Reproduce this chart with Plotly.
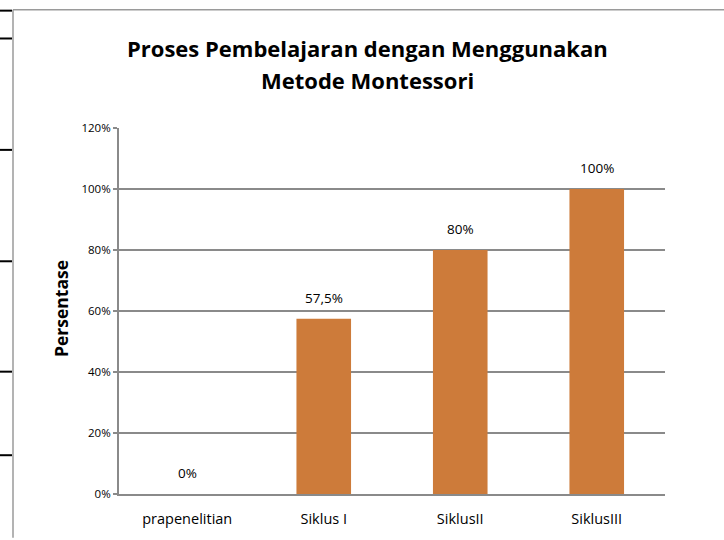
import plotly.graph_objects as go

categories = ["prapenelitian", "Siklus I", "SiklusII", "SiklusIII"]
values = [0.0, 0.575, 0.80, 1.00]
value_labels = ["0%", "57,5%", "80%", "100%"]
y_ticks = [0, 0.2, 0.4, 0.6, 0.8, 1.0, 1.2]
y_tick_labels = ["0%", "20%", "40%", "60%", "80%", "100%", "120%"]
title_lines = ["Proses Pembelajaran dengan Menggunakan", "Metode Montessori"]
y_title = "Persentase"

W, H = 724, 540
L, R, T, B = 119, 59, 128, 44
pw, ph = W - L - R, H - T - B

def px_x(p):
    return (p - L) / pw

def px_y(p):
    return (H - B - p) / ph

grid = "#8a8a8a"
bar_color = "#CD7B3A"
FONT = "Open Sans"

fig = go.Figure()
fig.add_trace(go.Bar(x=categories, y=values, marker_color=bar_color,
                     marker_line_width=0, width=0.4, hoverinfo="skip"))

for c, v, t in zip(categories, values, value_labels):
    fig.add_annotation(x=c, y=v, text=t, showarrow=False, yshift=21,
                       font=dict(family=FONT, size=13.5, color="#000"))

for line, yy in zip(title_lines, [48, 80]):
    fig.add_annotation(xref="paper", yref="paper", x=px_x(367), y=px_y(yy),
                       text="<b>%s</b>" % line, showarrow=False,
                       xanchor="center", yanchor="middle",
                       font=dict(family=FONT, size=22, color="#000"))

fig.add_annotation(xref="paper", yref="paper", x=px_x(61), y=px_y(310),
                   text="<b>%s</b>" % y_title, showarrow=False, textangle=-90,
                   xanchor="center", yanchor="middle",
                   font=dict(family=FONT, size=17.5, color="#000"))

shapes = []
shapes.append(dict(type="line", xref="paper", yref="paper", x0=px_x(13), x1=px_x(724),
                   y0=px_y(9), y1=px_y(9), line=dict(color="#9a9a9a", width=1.5)))
shapes.append(dict(type="line", xref="paper", yref="paper", x0=px_x(13), x1=px_x(13),
                   y0=px_y(9), y1=px_y(540), line=dict(color="#9a9a9a", width=1.5)))
for yy in [10, 38, 150, 262, 373, 457]:
    shapes.append(dict(type="line", xref="paper", yref="paper", x0=px_x(0), x1=px_x(12),
                       y0=px_y(yy), y1=px_y(yy), line=dict(color="#000", width=2)))

fig.update_layout(
    width=W, height=H,
    margin=dict(l=L, r=R, t=T, b=B),
    paper_bgcolor="white", plot_bgcolor="white",
    showlegend=False,
    shapes=shapes,
    xaxis=dict(showline=True, linecolor=grid, linewidth=2,
               ticks="outside", ticklen=11, tickcolor="rgba(0,0,0,0)",
               tickfont=dict(family=FONT, size=14.5, color="#000"),
               showgrid=False),
    yaxis=dict(range=[0, 1.2], tickvals=y_ticks, ticktext=y_tick_labels,
               showline=True, linecolor=grid, linewidth=2,
               ticks="outside", ticklen=4, tickcolor=grid, tickwidth=2,
               showgrid=True, gridcolor=grid, gridwidth=2, zeroline=False,
               tickfont=dict(family=FONT, size=11.5, color="#000")),
    bargap=0.6,
)

fig.write_html("out.html", config={"displayModeBar": False},
               post_script="document.body.style.margin='0';document.body.style.overflow='hidden';")
